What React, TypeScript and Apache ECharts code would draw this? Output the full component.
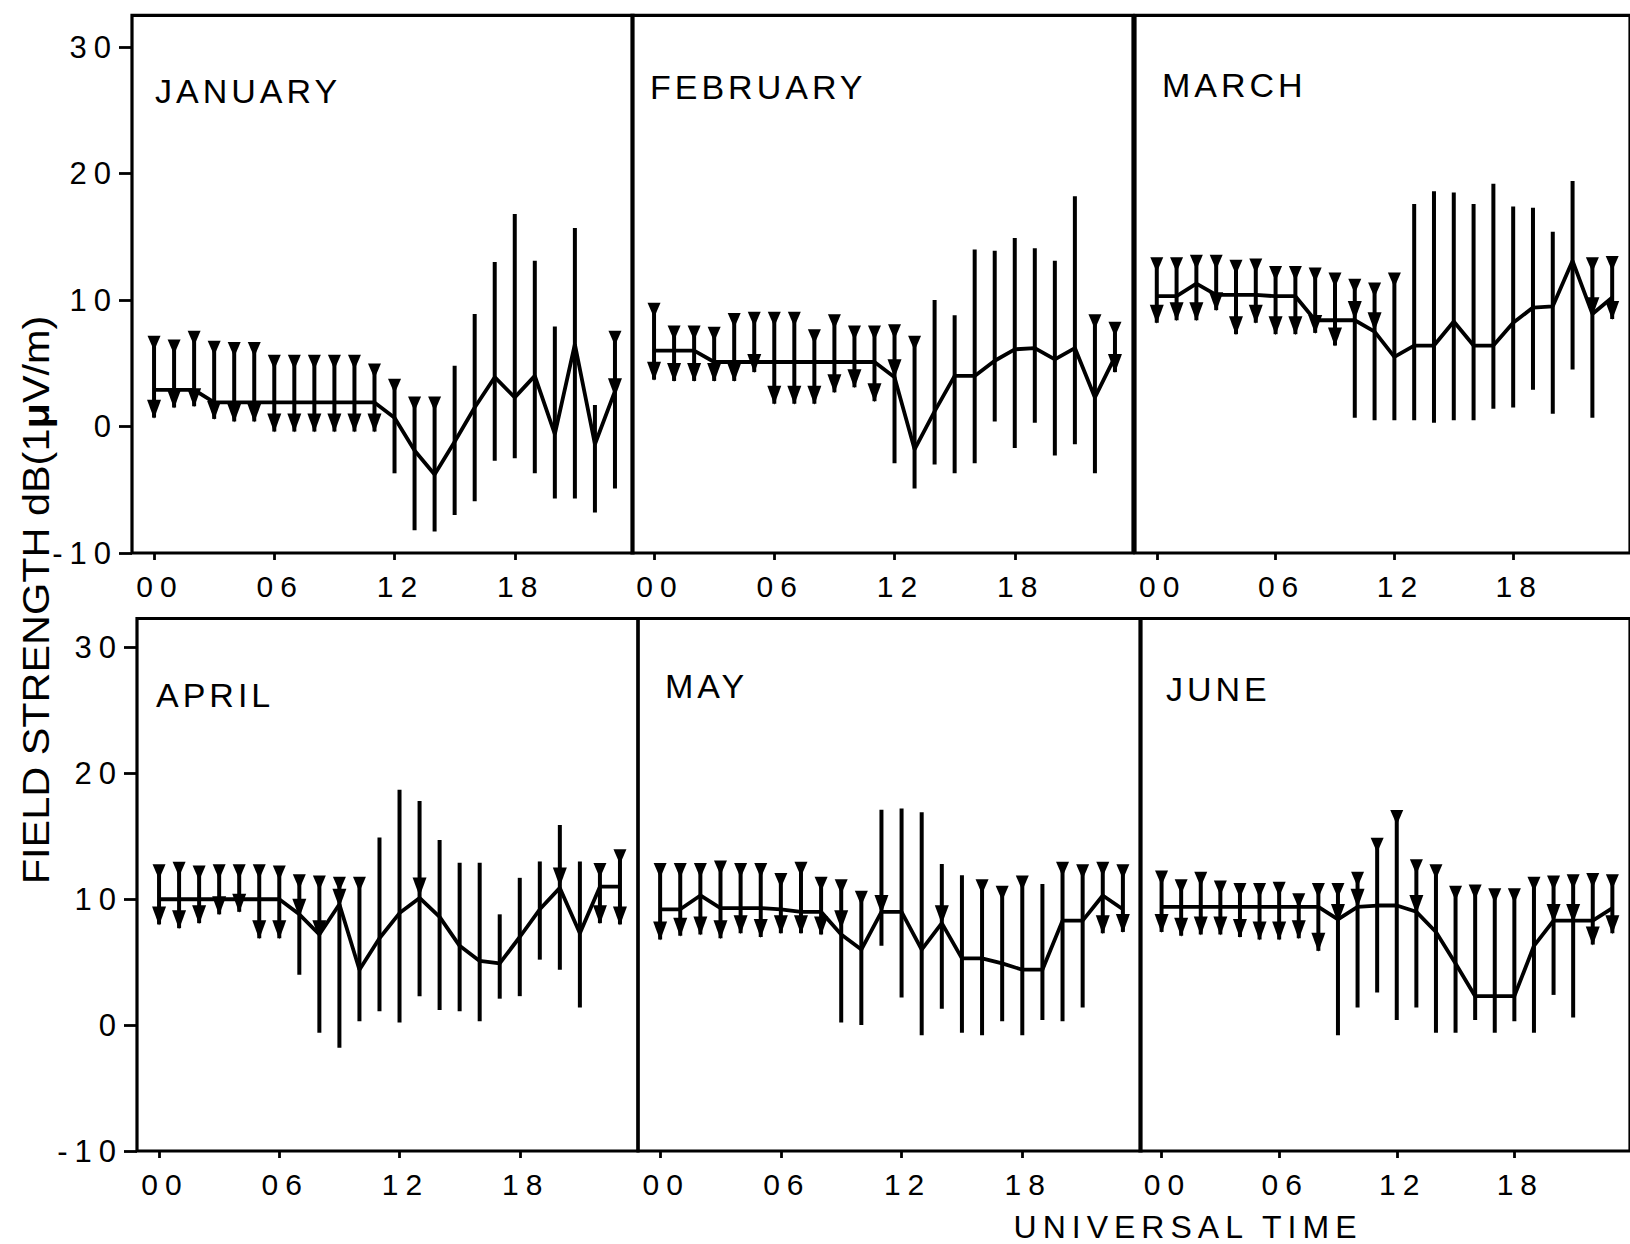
import React, { useEffect, useRef } from "react";
import * as echarts from "echarts";

// ---------- data ----------
const HOURS = [0, 1, 2, 3, 4, 5, 6, 7, 8, 9, 10, 11, 12, 13, 14, 15, 16, 17, 18, 19, 20, 21, 22, 23];

const X_TICKS = [0, 6, 12, 18];
const X_TICK_LABELS = ["00", "06", "12", "18"];
const Y_TICKS = [-10, 0, 10, 20, 30];
const Y_TICK_LABELS = ["-10", "0", "10", "20", "30"];

const MONTHS = ["JANUARY", "FEBRUARY", "MARCH", "APRIL", "MAY", "JUNE"];
const Y_TITLE_MAIN = "FIELD STRENGTH dB(1";
const Y_TITLE_MU = "μ";
const Y_TITLE_END = "V/m)";
const X_TITLE = "UNIVERSAL TIME";

// upper end of each vertical bar (dB)
const JAN_TOP = [7.1, 6.8, 7.5, 6.7, 6.6, 6.6, 5.6, 5.6, 5.6, 5.6, 5.6, 4.9, 3.7, 2.3, 2.3, 4.8, 8.9, 13.0, 16.8, 13.1, 7.9, 15.7, 1.7, 7.5];
const JAN_BOTTOM = [0.7, 1.5, 1.6, 0.6, 0.4, 0.4, -0.4, -0.4, -0.4, -0.4, -0.4, -0.4, -3.7, -8.2, -8.3, -7.0, -5.9, -2.7, -2.5, -3.7, -5.7, -5.7, -6.8, -4.9];
const JAN_MEDIAN = [2.9, 2.9, 2.9, 1.9, 1.9, 1.9, 1.9, 1.9, 1.9, 1.9, 1.9, 1.9, 0.7, -1.9, -3.8, -1.2, 1.5, 3.9, 2.3, 4.0, -0.6, 6.5, -1.4, 2.8];
const JAN_CAP = [1, 1, 1, 1, 1, 1, 1, 1, 1, 1, 1, 1, 1, 1, 1, 0, 0, 0, 0, 0, 0, 0, 0, 1];
const JAN_ARROW = [0.7, 1.5, 1.6, 0.6, 0.4, 0.4, -0.4, -0.4, -0.4, -0.4, -0.4, -0.4, null, null, null, null, null, null, null, null, null, null, null, 2.4];

const FEB_TOP = [9.7, 7.9, 7.9, 7.8, 8.9, 9.0, 9.0, 9.0, 7.6, 8.8, 7.9, 7.9, 8.0, 7.1, 10.0, 8.8, 14.0, 13.9, 14.9, 14.1, 13.1, 18.2, 8.8, 8.2];
const FEB_BOTTOM = [3.7, 3.6, 3.6, 3.6, 3.6, 4.3, 1.8, 1.8, 1.8, 2.7, 3.1, 2.0, -2.9, -4.9, -3.0, -3.7, -2.9, 0.4, -1.7, 0.3, -2.3, -1.4, -3.7, 4.3];
const FEB_MEDIAN = [6.0, 6.0, 6.0, 5.1, 5.1, 5.1, 5.1, 5.1, 5.1, 5.1, 5.1, 5.1, 3.9, -1.8, 1.2, 4.0, 4.0, 5.2, 6.1, 6.2, 5.3, 6.2, 2.3, 5.5];
const FEB_CAP = [1, 1, 1, 1, 1, 1, 1, 1, 1, 1, 1, 1, 1, 1, 0, 0, 0, 0, 0, 0, 0, 0, 1, 1];
const FEB_ARROW = [3.7, 3.6, 3.6, 3.6, 3.6, 4.3, 1.8, 1.8, 1.8, 2.7, 3.1, 2.0, 3.9, null, null, null, null, null, null, null, null, null, null, 4.3];

const MAR_TOP = [13.3, 13.3, 13.5, 13.5, 13.1, 13.2, 12.6, 12.6, 12.5, 12.1, 11.6, 11.3, 12.1, 17.6, 18.6, 18.5, 17.6, 19.2, 17.4, 17.3, 15.4, 19.4, 13.3, 13.4];
const MAR_BOTTOM = [8.2, 8.4, 8.4, 9.2, 7.3, 8.2, 7.3, 7.3, 7.4, 6.4, 0.7, 0.5, 0.5, 0.5, 0.3, 0.5, 0.5, 1.4, 1.5, 2.9, 1.0, 4.5, 0.7, 8.5];
const MAR_MEDIAN = [10.3, 10.3, 11.3, 10.4, 10.4, 10.4, 10.3, 10.3, 8.4, 8.4, 8.4, 7.5, 5.5, 6.4, 6.4, 8.3, 6.4, 6.4, 8.2, 9.4, 9.5, 13.1, 8.9, 10.2];
const MAR_CAP = [1, 1, 1, 1, 1, 1, 1, 1, 1, 1, 1, 1, 1, 0, 0, 0, 0, 0, 0, 0, 0, 0, 1, 1];
const MAR_ARROW = [8.2, 8.4, 8.4, 9.2, 7.3, 8.2, 7.3, 7.3, 7.4, 6.4, 8.5, 7.6, null, null, null, null, null, null, null, null, null, null, 8.8, 8.5];

const APR_TOP = [12.7, 12.9, 12.6, 12.7, 12.7, 12.7, 12.6, 11.9, 11.8, 11.7, 11.7, 14.9, 18.7, 17.8, 14.7, 12.9, 12.9, 8.8, 11.7, 13.0, 15.9, 13.0, 12.8, 13.9];
const APR_BOTTOM = [8.0, 7.7, 8.1, 8.8, 9.0, 6.9, 6.9, 4.0, -0.6, -1.8, 0.3, 1.1, 0.2, 2.3, 1.2, 1.1, 0.3, 2.1, 2.3, 5.2, 4.4, 1.4, 8.1, 8.0];
const APR_MEDIAN = [10.0, 10.0, 10.0, 10.0, 10.0, 10.0, 10.0, 8.8, 7.2, 9.6, 4.4, 6.9, 8.9, 10.1, 8.6, 6.3, 5.1, 4.9, 7.0, 9.2, 10.9, 7.3, 11.0, 11.0];
const APR_CAP = [1, 1, 1, 1, 1, 1, 1, 1, 1, 1, 1, 0, 0, 0, 0, 0, 0, 0, 0, 0, 0, 0, 1, 1];
const APR_ARROW = [8.0, 7.7, 8.1, 8.8, 9.0, 6.9, 6.9, 8.6, 6.9, 9.4, null, null, null, 10.3, null, null, null, null, null, null, 11.1, null, 8.1, 8.0];

const MAY_TOP = [12.8, 12.8, 12.8, 13.0, 12.8, 12.8, 12.0, 12.9, 11.7, 11.5, 10.6, 17.1, 17.2, 16.9, 12.8, 11.9, 11.5, 11.0, 11.8, 11.2, 12.9, 12.7, 12.9, 12.7];
const MAY_BOTTOM = [6.8, 7.1, 7.2, 6.9, 7.3, 7.0, 7.3, 7.3, 7.2, 0.2, 0.0, 6.3, 2.2, -0.8, 1.3, -0.6, -0.8, 0.3, -0.8, 0.4, 0.3, 1.4, 7.3, 7.4];
const MAY_MEDIAN = [9.2, 9.2, 10.3, 9.3, 9.3, 9.3, 9.2, 9.0, 9.0, 7.2, 6.0, 9.0, 9.0, 6.0, 8.1, 5.3, 5.3, 4.9, 4.4, 4.4, 8.3, 8.3, 10.3, 9.2];
const MAY_CAP = [1, 1, 1, 1, 1, 1, 1, 1, 1, 1, 1, 0, 0, 0, 0, 0, 1, 1, 1, 0, 1, 1, 1, 1];
const MAY_ARROW = [6.8, 7.1, 7.2, 6.9, 7.3, 7.0, 7.3, 7.3, 7.2, 7.7, null, 8.9, null, null, 8.1, null, null, null, null, null, null, null, 7.3, 7.4];

const JUN_TOP = [12.2, 11.5, 12.1, 11.4, 11.2, 11.2, 11.3, 10.4, 11.2, 11.2, 12.1, 14.8, 17.0, 13.1, 12.7, 11.0, 11.1, 10.8, 10.8, 11.7, 11.8, 11.9, 12.0, 11.9];
const JUN_BOTTOM = [7.4, 7.1, 7.2, 7.2, 7.0, 6.8, 6.8, 6.9, 5.9, -0.8, 1.4, 2.6, 0.4, 1.4, -0.6, -0.6, 0.4, -0.6, 0.3, -0.6, 2.4, 0.6, 6.4, 7.3];
const JUN_MEDIAN = [9.4, 9.4, 9.4, 9.4, 9.4, 9.4, 9.4, 9.4, 9.4, 8.4, 9.4, 9.5, 9.5, 9.0, 7.4, 4.9, 2.3, 2.3, 2.3, 6.3, 8.3, 8.3, 8.3, 9.3];
const JUN_CAP = [1, 1, 1, 1, 1, 1, 1, 1, 1, 1, 1, 1, 1, 1, 1, 1, 1, 1, 1, 1, 1, 1, 1, 1];
const JUN_ARROW = [7.4, 7.1, 7.2, 7.2, 7.0, 6.8, 6.8, 6.9, 5.9, 8.2, 9.4, null, null, 8.9, null, null, null, null, null, null, 8.2, 8.2, 6.4, 7.3];

const TOPS = [JAN_TOP, FEB_TOP, MAR_TOP, APR_TOP, MAY_TOP, JUN_TOP];
const BOTTOMS = [JAN_BOTTOM, FEB_BOTTOM, MAR_BOTTOM, APR_BOTTOM, MAY_BOTTOM, JUN_BOTTOM];
const MEDIANS = [JAN_MEDIAN, FEB_MEDIAN, MAR_MEDIAN, APR_MEDIAN, MAY_MEDIAN, JUN_MEDIAN];
const CAPS = [JAN_CAP, FEB_CAP, MAR_CAP, APR_CAP, MAY_CAP, JUN_CAP];
const ARROWS = [JAN_ARROW, FEB_ARROW, MAR_ARROW, APR_ARROW, MAY_ARROW, JUN_ARROW];

// ---------- layout / style ----------
const LAYOUT = [
  { left: 132, top: 15.4, width: 501, height: 537.6, ymax: 32.5, tx: 155, ty: 91, showY: true },
  { left: 632, top: 15.4, width: 501, height: 537.6, ymax: 32.5, tx: 650, ty: 87, showY: false },
  { left: 1135, top: 15.4, width: 501, height: 537.6, ymax: 32.5, tx: 1162, ty: 85, showY: false },
  { left: 137, top: 618.5, width: 501, height: 532.5, ymax: 32.3, tx: 156, ty: 695, showY: true },
  { left: 638, top: 618.5, width: 503, height: 532.5, ymax: 32.3, tx: 665, ty: 686, showY: false },
  { left: 1140, top: 618.5, width: 501, height: 532.5, ymax: 32.3, tx: 1166, ty: 689, showY: false },
];

const F_TICK = "Liberation Sans, Arial";
const F_TITLE = "Liberation Sans, Helvetica";
const F_AXIS = "Liberation Sans, Arimo";
const F_PLAIN = "Liberation Sans";

const CSS = `
.fsc text[style*="Arial"], .fsc text[font-family*="Arial"] { letter-spacing: 7px; }
.fsc text[style*="Helvetica"], .fsc text[font-family*="Helvetica"] { letter-spacing: 4px; }
.fsc text[style*="Arimo"], .fsc text[font-family*="Arimo"] { letter-spacing: 6px; }
`;

const BAR_W = 4;

function makeRenderItem(p: number) {
  const tops = TOPS[p];
  const bottoms = BOTTOMS[p];
  const caps = CAPS[p];
  const arrows = ARROWS[p];
  return (params: any, api: any) => {
    const i = params.dataIndex;
    const h = api.value(0);
    const pt = api.coord([h, tops[i]]);
    const pb = api.coord([h, bottoms[i]]);
    const x = pt[0];
    const children: any[] = [
      {
        type: "line",
        shape: { x1: x, y1: pt[1], x2: x, y2: pb[1] },
        style: { stroke: "#000", lineWidth: BAR_W },
      },
    ];
    if (caps[i]) {
      children.push({
        type: "polygon",
        shape: { points: [[x - 6.5, pt[1] - 1], [x + 6.5, pt[1] - 1], [x, pt[1] + 14]] },
        style: { fill: "#000" },
      });
    }
    const a = arrows[i];
    if (a !== null && a !== undefined) {
      const pa = api.coord([h, a]);
      children.push({
        type: "polygon",
        shape: { points: [[x - 7, pa[1] - 18], [x + 7, pa[1] - 18], [x, pa[1] + 1]] },
        style: { fill: "#000" },
      });
    }
    return { type: "group", children };
  };
}

export default function App() {
  const ref = useRef<HTMLDivElement>(null);

  useEffect(() => {
    if (!ref.current) return;
    const chart = echarts.init(ref.current, undefined, { renderer: "svg" });

    const grid = LAYOUT.map((l) => ({
      left: l.left,
      top: l.top,
      width: l.width,
      height: l.height,
      show: true,
      borderColor: "#000",
      borderWidth: 3.2,
      backgroundColor: "transparent",
      containLabel: false,
    }));

    const xAxis = LAYOUT.map((l, i) => ({
      gridIndex: i,
      type: "value",
      position: "bottom",
      min: -1.1,
      max: 23.9,
      axisLine: { show: false, onZero: false },
      splitLine: { show: false },
      axisTick: {
        show: true,
        length: 7,
        customValues: X_TICKS,
        lineStyle: { color: "#000", width: 2.8 },
      },
      axisLabel: {
        show: true,
        customValues: X_TICKS,
        formatter: (v: number) => {
          const k = X_TICKS.indexOf(v);
          return k >= 0 ? X_TICK_LABELS[k] : "";
        },
        fontSize: 30,
        color: "#000",
        fontFamily: F_TICK,
        margin: 18,
        padding: [0, 0, 0, 12],
      },
    }));

    const yAxis = LAYOUT.map((l, i) => ({
      gridIndex: i,
      type: "value",
      position: "left",
      min: -10,
      max: l.ymax,
      show: l.showY,
      axisLine: { show: false, onZero: false },
      splitLine: { show: false },
      axisTick: {
        show: true,
        length: 13,
        customValues: Y_TICKS,
        lineStyle: { color: "#000", width: 2.8 },
      },
      axisLabel: {
        show: true,
        customValues: Y_TICKS,
        formatter: (v: number) => {
          const k = Y_TICKS.indexOf(v);
          return k >= 0 ? Y_TICK_LABELS[k] : "";
        },
        fontSize: 31,
        color: "#000",
        fontFamily: F_TICK,
        margin: 14,
      },
    }));

    const series: any[] = [];
    LAYOUT.forEach((_, p) => {
      series.push({
        type: "custom",
        xAxisIndex: p,
        yAxisIndex: p,
        silent: true,
        clip: false,
        data: HOURS.map((h, j) => [h, TOPS[p][j], BOTTOMS[p][j]]),
        encode: { x: 0, y: [1, 2] },
        renderItem: makeRenderItem(p),
      });
      series.push({
        type: "line",
        xAxisIndex: p,
        yAxisIndex: p,
        silent: true,
        symbol: "none",
        z: 3,
        lineStyle: { color: "#000", width: 3.8 },
        data: HOURS.map((h, j) => [h, MEDIANS[p][j]]),
      });
    });

    const graphic: any[] = LAYOUT.map((l, i) => ({
      type: "text",
      x: l.tx,
      y: l.ty,
      silent: true,
      style: {
        text: MONTHS[i],
        fontSize: 34,
        fontFamily: F_TITLE,
        fill: "#000",
        align: "left",
        verticalAlign: "middle",
      },
    }));
    graphic.push({
      type: "text",
      x: 1188,
      y: 1227,
      silent: true,
      style: {
        text: X_TITLE,
        fontSize: 32,
        fontFamily: F_AXIS,
        fill: "#000",
        align: "center",
        verticalAlign: "middle",
      },
    });
    graphic.push({
      type: "text",
      x: 36,
      y: 600,
      rotation: Math.PI / 2,
      scaleX: 1.12,
      silent: true,
      style: {
        text: Y_TITLE_MAIN + "{mu|" + Y_TITLE_MU + "}" + Y_TITLE_END,
        fontSize: 37,
        fontFamily: F_PLAIN,
        fill: "#000",
        align: "center",
        verticalAlign: "middle",
        rich: {
          mu: { fontSize: 37, fontWeight: "bold", fontFamily: F_PLAIN, fill: "#000" },
        },
      },
    });

    chart.setOption({
      animation: false,
      backgroundColor: "#fff",
      grid,
      xAxis,
      yAxis,
      series,
      graphic,
    });

    return () => chart.dispose();
  }, []);

  return (
    <>
      <style>{CSS}</style>
      <div
        ref={ref}
        className="fsc"
        style={{ position: "absolute", left: 0, top: 0, width: 1630, height: 1244, background: "#fff" }}
      />
    </>
  );
}
